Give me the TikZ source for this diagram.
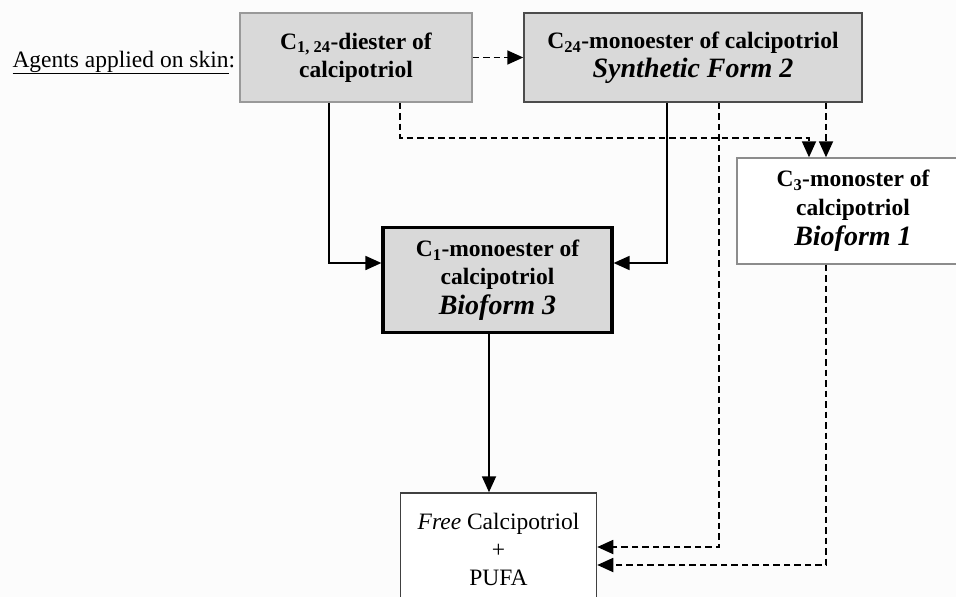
\documentclass[tikz,border=0pt]{standalone}
\usepackage{fontspec}
\setmainfont{Liberation Serif}
\usetikzlibrary{arrows.meta}
\definecolor{boxgray}{HTML}{D9D9D9}
\definecolor{bg}{HTML}{FCFCFC}
\newcommand{\bigit}[1]{{\fontsize{28}{28}\selectfont\textit{#1}}}
\tikzset{
  box/.style={draw, inner sep=0pt, align=center, font=\fontsize{23.5}{28.5}\selectfont\bfseries},
  conn/.style={line width=1.8pt, -{Triangle[length=16pt,width=14pt]}},
  dconn/.style={conn, dash pattern=on 6.5pt off 4pt},
}
\begin{document}
\begin{tikzpicture}[x=1pt,y=-1pt]
\clip (0,0) rectangle (956,597);
\fill[bg] (0,0) rectangle (956,597);
\node[anchor=base west, font=\fontsize{23.5}{28}\selectfont] (lab) at (9,67) {\underline{Agents applied on skin}:};
\node[box, fill=boxgray, draw=black!40, line width=1.4pt, minimum width=232pt, minimum height=89pt] (A) at (356,57.5)
  {C\textsubscript{1, 24}-diester of\\calcipotriol};
\node[box, fill=boxgray, draw=black!70, line width=1.5pt, minimum width=338pt, minimum height=89pt] (B) at (693,57.5)
  {C\textsubscript{24}-monoester of calcipotriol\\\bigit{Synthetic Form 2}};
\node[box, fill=white, draw=black!45, line width=1.4pt, minimum width=232pt, minimum height=106pt] (C) at (853,211)
  {C\textsubscript{3}-monoster of\\calcipotriol\\[2pt]\bigit{Bioform 1}};
\node[box, fill=boxgray, draw=black, line width=3.2pt, minimum width=229pt, minimum height=105pt] (D) at (497.5,280)
  {C\textsubscript{1}-monoester of\\calcipotriol\\[1pt]\bigit{Bioform 3}};
\node[box, font=\fontsize{23.5}{28}\selectfont, fill=white, draw=black!75, line width=1.5pt, minimum width=196pt, minimum height=112pt] (E) at (498.5,549)
  {\textit{Free} Calcipotriol\\+\\PUFA};
% connectors
\draw[dconn] (A.east) -- (B.west);
\draw[conn] (A.south -| 329,0) |- (D.west |- 0,263);
\draw[conn] (B.south -| 667,0) |- (D.east |- 0,263);
\draw[dconn] (A.south -| 400,0) |- (809,138) -- (C.north -| 809,0);
\draw[dconn] (B.south -| 826,0) -- (C.north -| 826,0);
\draw[dconn] (B.south -| 719,0) |- (E.east |- 0,547);
\draw[dconn] (C.south -| 826,0) |- (E.east |- 0,565);
\draw[conn] (D.south -| 489,0) -- (E.north -| 489,0);
\end{tikzpicture}
\end{document}
